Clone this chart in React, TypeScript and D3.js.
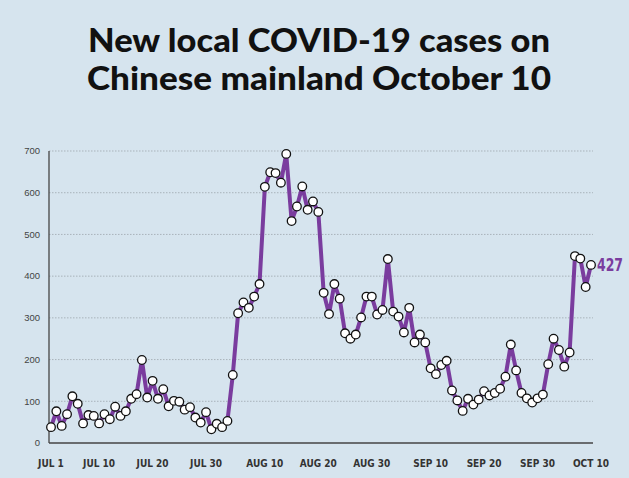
import React from "react";
import * as d3 from "d3";

const startDate = "2022-07-01";
const cases = [
  38, 76, 41, 69, 112, 94, 47, 67, 65, 47,
  69, 57, 87, 65, 76, 106, 117, 199, 109, 149,
  106, 129, 88, 101, 99, 80, 86, 61, 49, 74,
  33, 46, 38, 53, 163, 311, 337, 324, 351, 381,
  614, 649, 647, 624, 693, 532, 567, 615, 559, 579,
  554, 360, 309, 381, 346, 263, 250, 260, 301, 351,
  351, 308, 319, 441, 315, 303, 265, 324, 241, 260,
  241, 179, 165, 187, 197, 126, 102, 77, 106, 92,
  104, 124, 114, 120, 130, 159, 236, 174, 120, 107,
  97, 107, 116, 189, 250, 223, 183, 217, 448, 442,
  374, 427,
];
const yTicks = [0, 100, 200, 300, 400, 500, 600, 700];
const xTickLabels = ["JUL 1", "JUL 10", "JUL 20", "JUL 30", "AUG 10", "AUG 20", "AUG 30", "SEP 10", "SEP 20", "SEP 30", "OCT 10"];
const xTickDates = ["2022-07-01", "2022-07-10", "2022-07-20", "2022-07-30", "2022-08-10", "2022-08-20", "2022-08-30", "2022-09-10", "2022-09-20", "2022-09-30", "2022-10-10"];
const titleLines = ["New local COVID-19 cases on", "Chinese mainland October 10"];
const lastLabel = "427";

const W = 629;
const H = 478;

export default function App() {
  const parse = d3.utcParse("%Y-%m-%d");
  const start = parse(startDate) as Date;
  const data = cases.map((v, i) => ({ date: d3.utcDay.offset(start, i), value: v }));
  const x = d3
    .scaleUtc()
    .domain([start, data[data.length - 1].date])
    .range([51, 591]);
  const y = d3.scaleLinear().domain([0, 700]).range([443, 151]);
  const line = d3
    .line<{ date: Date; value: number }>()
    .x((d) => x(d.date))
    .y((d) => y(d.value));
  const last = data[data.length - 1];
  const purple = "#7a3c9e";

  return (
    <svg
      width={W}
      height={H}
      style={{ position: "absolute", left: 0, top: 0 }}
    >
      <rect x={0} y={0} width={W} height={H} fill="#d6e4ee" />
      {titleLines.map((t, i) => (
        <text
          key={i}
          x={319}
          y={52 + i * 38}
          textAnchor="middle"
          fontFamily="Lato, 'Open Sans', sans-serif"
          fontWeight={900}
          fontSize={32}
          fill="#111"
          textLength={i === 0 ? 462 : 464}
          lengthAdjust="spacingAndGlyphs"
        >
          {t}
        </text>
      ))}
      {yTicks.map((t) => (
        <g key={t}>
          {t > 0 && (
            <line
              x1={49}
              x2={593}
              y1={y(t)}
              y2={y(t)}
              stroke="#a9b3ba"
              strokeWidth={1}
              strokeDasharray="1.5,1.5"
            />
          )}
          <text
            x={40}
            y={y(t)}
            dy="0.35em"
            textAnchor="end"
            fontFamily="'Liberation Sans', Arial, sans-serif"
            fontSize={9.5}
            fill="#444"
          >
            {t}
          </text>
        </g>
      ))}
      <line x1={49} x2={49} y1={151} y2={443} stroke="#444" strokeWidth={1.3} />
      <line x1={49} x2={593} y1={443} y2={443} stroke="#444" strokeWidth={1.5} />
      {xTickDates.map((d, i) => (
        <text
          key={d}
          x={x(parse(d) as Date)}
          y={467}
          textAnchor="middle"
          fontFamily="'Liberation Sans Narrow', 'DejaVu Sans Condensed', sans-serif"
          fontWeight={700}
          fontSize={10}
          fill="#333"
        >
          {xTickLabels[i]}
        </text>
      ))}
      <path d={line(data) || ""} fill="none" stroke={purple} strokeWidth={4} strokeLinejoin="round" />
      {data.map((d, i) => (
        <circle
          key={i}
          cx={x(d.date)}
          cy={y(d.value)}
          r={4.3}
          fill="#fff"
          stroke="#111"
          strokeWidth={1.3}
        />
      ))}
      <text
        x={597}
        y={y(last.value) + 6}
        fontFamily="'Liberation Sans Narrow', 'DejaVu Sans Condensed', sans-serif"
        fontWeight={700}
        fontSize={17}
        fill={purple}
        textLength={26}
        lengthAdjust="spacingAndGlyphs"
      >
        {lastLabel}
      </text>
    </svg>
  );
}
